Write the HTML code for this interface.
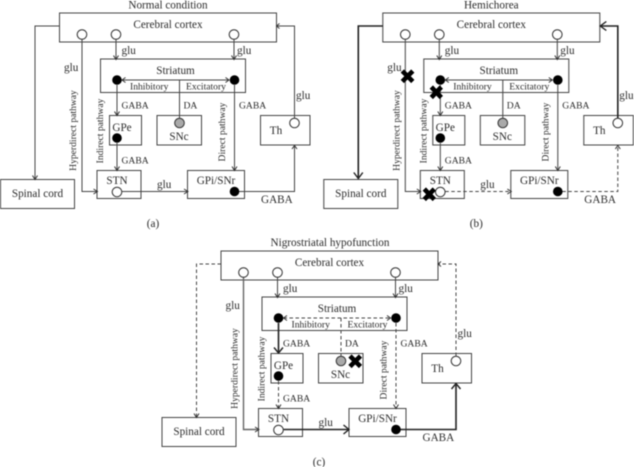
<!DOCTYPE html>
<html><head><meta charset="utf-8">
<style>
html,body{margin:0;padding:0;background:#fff;width:634px;height:467px;overflow:hidden}
svg{display:block;filter:blur(0.45px)}
text{font-family:"Liberation Serif",serif;fill:#2b2b2b;font-size:11.2px}
.s{font-size:9.6px}
.m{text-anchor:middle}
.b{fill:#fff;stroke:#444;stroke-width:1}
.l{fill:none;stroke:#444;stroke-width:1}
.t{fill:none;stroke:#222;stroke-width:1.6}
.d{fill:none;stroke:#444;stroke-width:1;stroke-dasharray:3.5 2.5}
.o{fill:#fff;stroke:#333;stroke-width:1}
.k{fill:#000;stroke:#000;stroke-width:1}
.g{fill:#aaa;stroke:#333;stroke-width:1}
.x{fill:none;stroke:#000;stroke-width:4.6}
.h{fill:none;stroke:#333;stroke-width:1}
.H{fill:none;stroke:#222;stroke-width:1.4}
</style></head><body>
<svg width="634" height="467" viewBox="0 0 634 467" xmlns="http://www.w3.org/2000/svg">

<!-- PANEL A -->
<g>
<rect class="b" x="59.5" y="13" width="217" height="29"/>
<rect class="b" x="100.5" y="59" width="145" height="33.5"/>
<rect class="b" x="109.5" y="115.5" width="32" height="29.5"/>
<rect class="b" x="157" y="115.5" width="44.5" height="29.5"/>
<rect class="b" x="260.5" y="115.5" width="49.5" height="29.5"/>
<rect class="b" x="97" y="170.5" width="44" height="28"/>
<rect class="b" x="187.5" y="170.5" width="57" height="28"/>
<rect class="b" x="0.5" y="179.5" width="74" height="29"/>
<path class="l" d="M59.5 26H35V179M82 39V191.5H97M116 39V59M234 39V59M122 80H229M179.5 80V118M117 85V115M117 143V170M234.5 85V170M122 191.5H187.5M239 191.5H294.5V145M294.5 118V26H276"/>
<path class="h" d="M32.5 175.5L35 179.5L37.5 175.5M93.5 189L97.5 191.5L93.5 194M113.5 55.5L116 59.5L118.5 55.5M231.5 55.5L234 59.5L236.5 55.5M125.5 77.5L122 80L125.5 82.5M225.5 77.5L229 80L225.5 82.5M114.5 111.5L117 115.5L119.5 111.5M114.5 166.5L117 170.5L119.5 166.5M232 166.5L234.5 170.5L237 166.5M184 189L188 191.5L184 194M292 149L294.5 145.5L297 149M279.5 23.5L276.5 26L279.5 28.5"/>
<circle class="o" cx="82" cy="34.5" r="4.8"/><circle class="o" cx="116" cy="34.5" r="4.8"/><circle class="o" cx="234" cy="34.5" r="4.8"/>
<circle class="k" cx="117" cy="80" r="4.3"/><circle class="k" cx="234.5" cy="80" r="4.3"/><circle class="k" cx="117" cy="138" r="4.3"/><circle class="k" cx="234.5" cy="191.5" r="4.3"/>
<circle class="g" cx="179.5" cy="123" r="4.8"/><circle class="o" cx="294.5" cy="123" r="4.8"/><circle class="o" cx="117" cy="192" r="4.8"/>
<text class="m" x="168" y="8.5">Normal condition</text>
<text class="m" x="168" y="28">Cerebral cortex</text>
<text x="121.5" y="54">glu</text><text x="237" y="54">glu</text><text x="64" y="71">glu</text>
<text class="m" x="175.5" y="74">Striatum</text>
<text class="s" x="130" y="89.5">Inhibitory</text><text class="s" x="186" y="89.5">Excitatory</text>
<text class="s" x="121.5" y="108.5">GABA</text><text class="s" x="183.5" y="108.5">DA</text><text class="s" x="239" y="108.5">GABA</text><text class="s" x="121.5" y="163.5">GABA</text>
<text x="296" y="99">glu</text>
<text class="m" x="122" y="131">GPe</text><text class="m" x="179" y="140">SNc</text><text class="m" x="276" y="134">Th</text>
<text class="m" x="117" y="184">STN</text><text class="m" x="216" y="184">GPi/SNr</text><text class="m" x="37.5" y="197">Spinal cord</text>
<text x="157" y="188">glu</text><text x="261" y="203">GABA</text>
<text class="m" x="153" y="227">(a)</text>
<text class="s m" transform="translate(76,130.5) rotate(-90)">Hyperdirect pathway</text>
<text class="s m" transform="translate(103,131) rotate(-90)">Indirect pathway</text>
<text class="s m" transform="translate(225,132) rotate(-90)">Direct pathway</text>
</g>

<!-- PANEL B -->
<g transform="translate(323.3,0)">
<rect class="b" x="59.5" y="13" width="217" height="29"/>
<rect class="b" x="100.5" y="59" width="145" height="33.5"/>
<rect class="b" x="109.5" y="115.5" width="32" height="29.5"/>
<rect class="b" x="157" y="115.5" width="44.5" height="29.5"/>
<rect class="b" x="260.5" y="115.5" width="49.5" height="29.5"/>
<rect class="b" x="97" y="170.5" width="44" height="28"/>
<rect class="b" x="187.5" y="170.5" width="57" height="28"/>
<rect class="b" x="0.5" y="179.5" width="74" height="29"/>
<path class="l" d="M82 39V191.5H97M116 39V59M234 39V59M122 80H229M179.5 80V118M117 85V115M117 143V170M234.5 85V170"/>
<path class="t" d="M59.5 26H35V178M294.5 118V26H277"/>
<path class="d" d="M122 191.5H187.5M239 191.5H294.5V146"/>
<path class="h" d="M93.5 189L97.5 191.5L93.5 194M113.5 55.5L116 59.5L118.5 55.5M231.5 55.5L234 59.5L236.5 55.5M125.5 77.5L122 80L125.5 82.5M225.5 77.5L229 80L225.5 82.5M114.5 111.5L117 115.5L119.5 111.5M114.5 166.5L117 170.5L119.5 166.5M232 166.5L234.5 170.5L237 166.5M184 189L188 191.5L184 194M292 149L294.5 145.5L297 149"/>
<path class="H" d="M30.5 172.5L35 178.5L39.5 172.5M283 21.5L277 26L283 30.5"/>
<circle class="o" cx="82" cy="34.5" r="4.8"/><circle class="o" cx="116" cy="34.5" r="4.8"/><circle class="o" cx="234" cy="34.5" r="4.8"/>
<circle class="k" cx="117" cy="80" r="4.3"/><circle class="k" cx="234.5" cy="80" r="4.3"/><circle class="k" cx="117" cy="138" r="4.3"/><circle class="k" cx="234.5" cy="191.5" r="4.3"/>
<circle class="g" cx="179.5" cy="123" r="4.8"/><circle class="o" cx="294.5" cy="123" r="4.8"/><circle class="o" cx="117" cy="192" r="4.8"/>
<text class="m" x="168" y="8.5">Hemichorea</text>
<text class="m" x="168" y="28">Cerebral cortex</text>
<text x="121.5" y="54">glu</text><text x="237" y="54">glu</text><text x="64" y="71">glu</text>
<text class="m" x="175.5" y="74">Striatum</text>
<text class="s" x="130" y="89.5">Inhibitory</text><text class="s" x="186" y="89.5">Excitatory</text>
<text class="s" x="121.5" y="108.5">GABA</text><text class="s" x="183.5" y="108.5">DA</text><text class="s" x="239" y="108.5">GABA</text><text class="s" x="121.5" y="163.5">GABA</text>
<text x="296" y="99">glu</text>
<text class="m" x="122" y="131">GPe</text><text class="m" x="179" y="140">SNc</text><text class="m" x="276" y="134">Th</text>
<text class="m" x="117" y="184">STN</text><text class="m" x="216" y="184">GPi/SNr</text><text class="m" x="37.5" y="197">Spinal cord</text>
<text x="157" y="188">glu</text><text x="261" y="203">GABA</text>
<text class="m" x="153" y="227">(b)</text>
<text class="s m" transform="translate(76,130.5) rotate(-90)">Hyperdirect pathway</text>
<text class="s m" transform="translate(103,131) rotate(-90)">Indirect pathway</text>
<text class="s m" transform="translate(225,132) rotate(-90)">Direct pathway</text>
<path class="x" d="M79 71L89.5 81.5M89.5 71L79 81.5"/>
<path class="x" d="M108 87L118 97.5M118 87L108 97.5"/>
<path class="x" d="M101 189L111 199.5M111 189L101 199.5"/>
</g>

<!-- PANEL C -->
<g transform="translate(161.5,238)">
<rect class="b" x="59.5" y="13" width="217" height="29"/>
<rect class="b" x="100.5" y="59" width="145" height="33.5"/>
<rect class="b" x="109.5" y="115.5" width="32" height="29.5"/>
<rect class="b" x="157" y="115.5" width="44.5" height="29.5"/>
<rect class="b" x="260.5" y="115.5" width="49.5" height="29.5"/>
<rect class="b" x="97" y="170.5" width="44" height="28"/>
<rect class="b" x="187.5" y="170.5" width="57" height="28"/>
<rect class="b" x="0.5" y="179.5" width="74" height="29"/>
<path class="l" d="M116 39V59M234 39V59"/>
<path d="M82 39V191.5H97" fill="none" stroke="#666" stroke-width="1.4"/>
<path class="d" d="M59.5 26H35V179M122 80H229M179.5 80V118M117 143V170M234.5 85V170M294.5 118V26H277"/>
<path class="t" d="M117 85V114M122 191.5H187M239 191.5H294.5V146"/>
<path class="h" d="M32.5 175.5L35 179.5L37.5 175.5M93.5 189L97.5 191.5L93.5 194M113.5 55.5L116 59.5L118.5 55.5M231.5 55.5L234 59.5L236.5 55.5M125.5 77.5L122 80L125.5 82.5M225.5 77.5L229 80L225.5 82.5M114.5 166.5L117 170.5L119.5 166.5M232 166.5L234.5 170.5L237 166.5M279.5 23.5L276.5 26L279.5 28.5"/>
<path class="H" d="M112.5 109.5L117 115L121.5 109.5M182 187L187.5 191.5L182 196M290 151L294.5 145.5L299 151"/>
<circle class="o" cx="82" cy="34.5" r="4.8"/><circle class="o" cx="116" cy="34.5" r="4.8"/><circle class="o" cx="234" cy="34.5" r="4.8"/>
<circle class="k" cx="117" cy="80" r="4.3"/><circle class="k" cx="234.5" cy="80" r="4.3"/><circle class="k" cx="117" cy="138" r="4.3"/><circle class="k" cx="234.5" cy="191.5" r="4.3"/>
<circle class="g" cx="179.5" cy="123" r="4.8"/><circle class="o" cx="294.5" cy="123" r="4.8"/><circle class="o" cx="117" cy="192" r="4.8"/>
<text class="m" x="168.5" y="8">Nigrostriatal hypofunction</text>
<text class="m" x="168" y="28">Cerebral cortex</text>
<text x="121.5" y="54">glu</text><text x="237" y="54">glu</text><text x="64" y="71">glu</text>
<text class="m" x="175.5" y="74">Striatum</text>
<text class="s" x="130" y="89.5">Inhibitory</text><text class="s" x="186" y="89.5">Excitatory</text>
<text class="s" x="121.5" y="108.5">GABA</text><text class="s" x="183.5" y="108.5">DA</text><text class="s" x="239" y="108.5">GABA</text><text class="s" x="121.5" y="163.5">GABA</text>
<text x="296" y="99">glu</text>
<text class="m" x="122" y="131">GPe</text><text class="m" x="179" y="140">SNc</text><text class="m" x="276" y="134">Th</text>
<text class="m" x="117" y="184">STN</text><text class="m" x="216" y="184">GPi/SNr</text><text class="m" x="37.5" y="197">Spinal cord</text>
<text x="157" y="188">glu</text><text x="261" y="203">GABA</text>
<text class="m" x="157.5" y="227.5">(c)</text>
<text class="s m" transform="translate(76,130.5) rotate(-90)">Hyperdirect pathway</text>
<text class="s m" transform="translate(103,131) rotate(-90)">Indirect pathway</text>
<text class="s m" transform="translate(225,132) rotate(-90)">Direct pathway</text>
<path class="x" d="M188.5 118L199 128.5M199 118L188.5 128.5"/>
</g>
</svg>
</body></html>
